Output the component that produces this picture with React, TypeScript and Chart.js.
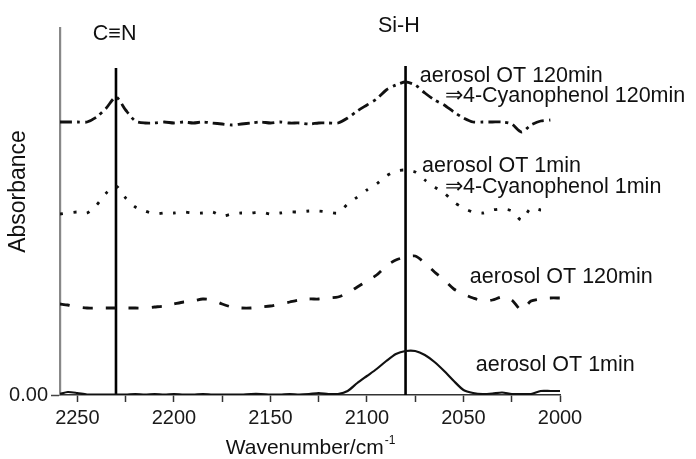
import React, { useEffect, useRef } from "react";
import { Chart, registerables } from "chart.js";

Chart.register(...registerables);

// ---- data ----
const wavenumbers = [
  2259, 2255, 2250, 2245, 2240, 2235, 2230, 2225, 2220, 2215, 2210, 2205, 2200,
  2195, 2190, 2185, 2180, 2175, 2170, 2165, 2160, 2155, 2150, 2145, 2140, 2135,
  2130, 2125, 2120, 2115, 2110, 2105, 2100, 2095, 2090, 2085, 2080, 2075, 2070,
  2065, 2060, 2055, 2050, 2045, 2040, 2035, 2030, 2025, 2020, 2015, 2010, 2005, 2000,
];

// aerosol OT 1min (solid)
const aot1min = [
  0.01, 0.03, 0.02, 0.005, 0.005, 0.005, 0.005, 0.005, 0.01, 0.005, 0.01, 0.005, 0.01,
  0.005, 0.005, 0.01, 0.005, 0.005, 0.005, 0.005, 0.01, 0.01, 0.005, 0.005, 0.01, 0.005,
  0.01, 0.02, 0.01, 0.01, 0.04, 0.12, 0.19, 0.26, 0.34, 0.41, 0.44, 0.44, 0.4,
  0.33, 0.24, 0.14, 0.05, 0.02, 0.01, 0.015, 0.025, 0.01, 0.01, 0.01, 0.04, 0.04, 0.04,
];

// aerosol OT 120min (dashed)
const aot120min = [
  0.91, 0.9, 0.88, 0.87, 0.87, 0.87, 0.87, 0.87, 0.87, 0.87, 0.88, 0.89, 0.91,
  0.93, 0.94, 0.96, 0.95, 0.91, 0.88, 0.87, 0.87, 0.88, 0.89, 0.91, 0.93, 0.95,
  0.96, 0.96, 0.97, 0.98, 1.02, 1.08, 1.14, 1.2, 1.29, 1.35, 1.38, 1.39, 1.32,
  1.23, 1.15, 1.06, 1.01, 0.97, 0.94, 0.95, 0.98, 0.95, 0.85, 0.94, 0.96, 0.97, 0.97,
];

// aerosol OT 1min -> 4-Cyanophenol 1min (dotted)
const cp1min = [
  1.81, 1.82, 1.83, 1.82, 1.9, 2.02, 2.09, 1.97, 1.88, 1.84, 1.81, 1.82, 1.82,
  1.83, 1.82, 1.82, 1.83, 1.79, 1.81, 1.82, 1.82, 1.83, 1.81, 1.82, 1.83, 1.83,
  1.84, 1.84, 1.83, 1.82, 1.91, 1.98, 2.05, 2.11, 2.19, 2.24, 2.25, 2.23, 2.15,
  2.08, 2.02, 1.93, 1.87, 1.83, 1.82, 1.85, 1.86, 1.84, 1.75, 1.87, 1.85, 1.85, null,
];

// aerosol OT 120min -> 4-Cyanophenol 120min (dash-dot)
const cp120min = [
  2.73, 2.73, 2.73, 2.73, 2.78, 2.87, 2.98, 2.85, 2.74, 2.72, 2.72, 2.73, 2.72,
  2.73, 2.72, 2.73, 2.72, 2.71, 2.7, 2.71, 2.72, 2.73, 2.72, 2.73, 2.72, 2.72,
  2.71, 2.72, 2.72, 2.72, 2.77, 2.84, 2.9, 2.96, 3.05, 3.1, 3.13, 3.1, 3.02,
  2.95, 2.9, 2.83, 2.77, 2.73, 2.73, 2.73, 2.73, 2.71, 2.63, 2.7, 2.74, 2.75, null,
];

const xTickValues = [2250, 2225, 2200, 2175, 2150, 2125, 2100, 2075, 2050, 2025, 2000];
const xLabelValues = [2250, 2200, 2150, 2100, 2050, 2000];
const yTickValues = [0];
const yTickLabels = ["0.00"];

const markerLabels = ["C\u2261N", "Si-H"];
const markerWavenumbers = [2230, 2080];
const markerTops = [3.27, 3.29];
const markerLabelX = [2242, 2094.3];
const markerLabelY = [3.55, 3.63];

const annotationTexts = [
  "aerosol OT 120min",
  "\u21d24-Cyanophenol 120min",
  "aerosol OT 1min",
  "\u21d24-Cyanophenol 1min",
  "aerosol OT 120min",
  "aerosol OT 1min",
];
const annotationX = [2072.6, 2059.6, 2071.5, 2059.6, 2046.7, 2043.6];
const annotationY = [3.13, 2.93, 2.23, 2.02, 1.12, 0.24];

const FONT = "'Liberation Sans', Arial, sans-serif";

function toPoints(values: (number | null)[]) {
  return wavenumbers.map((x, i) => ({ x, y: values[i] }));
}

const textPlugin = {
  id: "textPlugin",
  afterDraw(chart: any) {
    const ctx = chart.ctx as CanvasRenderingContext2D;
    const xs = chart.scales.x;
    const ys = chart.scales.y;
    ctx.save();
    ctx.fillStyle = "#111";
    ctx.textBaseline = "alphabetic";
    ctx.textAlign = "left";
    ctx.font = `21.5px ${FONT}`;
    annotationTexts.forEach((t, i) => {
      ctx.fillText(t, xs.getPixelForValue(annotationX[i]), ys.getPixelForValue(annotationY[i]));
    });
    markerLabels.forEach((t, i) => {
      ctx.fillText(t, xs.getPixelForValue(markerLabelX[i]), ys.getPixelForValue(markerLabelY[i]));
    });
    // y axis title
    ctx.save();
    ctx.translate(chart.chartArea.left - 41, (chart.chartArea.top + chart.chartArea.bottom) / 2 - 20);
    ctx.rotate(-Math.PI / 2);
    ctx.textAlign = "center";
    ctx.textBaseline = "middle";
    ctx.font = `23px ${FONT}`;
    ctx.fillText("Absorbance", 0, 0);
    ctx.restore();
    // x axis title with superscript
    const main = "Wavenumber/cm";
    const sup = "-1";
    ctx.font = `21px ${FONT}`;
    const w1 = ctx.measureText(main).width;
    ctx.font = `12px ${FONT}`;
    const w2 = ctx.measureText(sup).width;
    const cx = (chart.chartArea.left + chart.chartArea.right) / 2;
    const startX = cx - (w1 + w2) / 2;
    const base = chart.chartArea.bottom + 59;
    ctx.font = `21px ${FONT}`;
    ctx.fillText(main, startX, base);
    ctx.font = `12px ${FONT}`;
    ctx.fillText(sup, startX + w1 + 1, base - 10);
    ctx.restore();
  },
};

export default function App() {
  const canvasRef = useRef<HTMLCanvasElement | null>(null);

  useEffect(() => {
    if (!canvasRef.current) return;
    const lineBase = {
      borderColor: "#111",
      pointRadius: 0,
      tension: 0.25,
      fill: false,
      spanGaps: false,
    };
    const chart = new Chart(canvasRef.current, {
      type: "line",
      data: {
        datasets: [
          { ...lineBase, label: "aerosol OT 1min", data: toPoints(aot1min), borderWidth: 2.2 },
          { ...lineBase, label: "aerosol OT 120min", data: toPoints(aot120min), borderWidth: 2.8, borderDash: [10, 13] },
          { ...lineBase, label: "4-Cyanophenol 1min", data: toPoints(cp1min), borderWidth: 2.8, borderDash: [3, 10.5] },
          { ...lineBase, label: "4-Cyanophenol 120min", data: toPoints(cp120min), borderWidth: 2.8, borderDash: [12, 5, 3, 5] },
          ...markerWavenumbers.map((wn, i) => ({
            label: markerLabels[i],
            data: [
              { x: wn, y: 0 },
              { x: wn, y: markerTops[i] },
            ],
            borderColor: "#000",
            borderWidth: 2.6,
            pointRadius: 0,
            tension: 0,
          })),
        ] as any,
      },
      options: {
        animation: false,
        responsive: true,
        maintainAspectRatio: false,
        layout: { padding: { left: 0, right: 136, top: 28, bottom: 0 } },
        plugins: {
          legend: { display: false },
          tooltip: { enabled: false },
          title: { display: false },
        },
        scales: {
          x: {
            type: "linear",
            reverse: true,
            min: 2000,
            max: 2259,
            afterBuildTicks: (s: any) => {
              s.ticks = xTickValues.map((v) => ({ value: v }));
            },
            afterFit: (s: any) => {
              s.height = 64;
            },
            ticks: {
              autoSkip: false,
              maxRotation: 0,
              padding: 4,
              color: "#1a1a1a",
              font: { family: FONT, size: 20 },
              callback: (v: any) => (xLabelValues.includes(Number(v)) ? String(v) : ""),
            },
            grid: {
              display: true,
              drawOnChartArea: false,
              drawTicks: true,
              tickLength: 7,
              tickWidth: 1.5,
              tickColor: "#333",
            },
            border: { display: true, color: "#333", width: 1.6 },
          },
          y: {
            type: "linear",
            min: 0,
            max: 3.67,
            afterBuildTicks: (s: any) => {
              s.ticks = yTickValues.map((v) => ({ value: v }));
            },
            afterFit: (s: any) => {
              s.width = 60;
            },
            ticks: {
              padding: 3,
              color: "#1a1a1a",
              font: { family: FONT, size: 20 },
              callback: (v: any, i: number) => yTickLabels[i] ?? "",
            },
            grid: {
              display: true,
              drawOnChartArea: false,
              drawTicks: true,
              tickLength: 9,
              tickWidth: 1.5,
              tickColor: "#444",
            },
            border: { display: true, color: "#888", width: 2.2 },
          },
        },
      } as any,
      plugins: [textPlugin],
    });
    return () => chart.destroy();
  }, []);

  return (
    <div style={{ position: "fixed", left: 0, top: 0, width: 696, height: 459, background: "#fff" }}>
      <canvas ref={canvasRef} />
    </div>
  );
}
